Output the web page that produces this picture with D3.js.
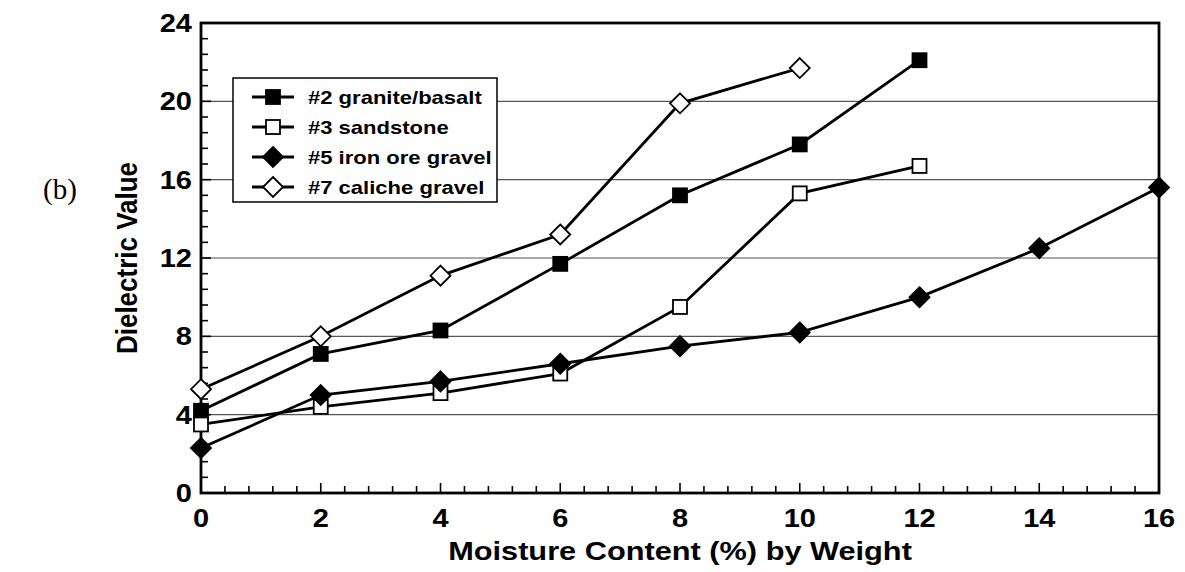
<!DOCTYPE html>
<html>
<head>
<meta charset="utf-8">
<script src="https://cdn.jsdelivr.net/npm/d3@7"></script>
<style>
  html, body { margin: 0; padding: 0; background: #fff; }
  svg { display: block; }
</style>
</head>
<body>
<div id="chart"></div>
<script>
// moisture content (% by weight)
const moisture = [0, 2, 4, 6, 8, 10, 12, 14, 16];

const granite = [4.2, 7.1, 8.3, 11.7, 15.2, 17.8, 22.1];
const sandstone = [3.5, 4.4, 5.1, 6.1, 9.5, 15.3, 16.7];
const ironOre = [2.3, 5.0, 5.7, 6.6, 7.5, 8.2, 10.0, 12.5, 15.6];
const caliche = [5.3, 8.0, 11.1, 13.2, 19.9, 21.7];

const seriesNames = ["#2 granite/basalt", "#3 sandstone", "#5 iron ore gravel", "#7 caliche gravel"];
const seriesValues = [granite, sandstone, ironOre, caliche];
const seriesMarkers = ["square", "square", "diamond", "diamond"];
const seriesFilled = [true, false, true, false];

const xTicks = [0, 2, 4, 6, 8, 10, 12, 14, 16];
const yTicks = [0, 4, 8, 12, 16, 20, 24];
const gridValues = [4, 8, 12, 16, 20];

const width = 1185, height = 572;
const margin = { top: 23, right: 26, bottom: 79, left: 201 };
const fontFamily = "'Liberation Sans', Arial, Helvetica, sans-serif";
const stretch = 1.16; // the scanned figure is a bit wider than tall

const svg = d3.select("#chart").append("svg")
  .attr("width", width)
  .attr("height", height);

const x = d3.scaleLinear().domain([0, 16]).range([margin.left, width - margin.right]);
const y = d3.scaleLinear().domain([0, 24]).range([height - margin.bottom, margin.top]);

// grid
svg.append("g")
  .selectAll("line")
  .data(gridValues)
  .enter().append("line")
  .attr("x1", x(0))
  .attr("x2", x(16))
  .attr("y1", d => y(d))
  .attr("y2", d => y(d))
  .attr("stroke", "#555")
  .attr("stroke-width", 1.2);

// minor + major ticks, pointing inside
const xMinor = d3.range(0, 16.001, 0.4);
const yMinor = d3.range(0, 24.001, 0.8);

svg.append("g")
  .selectAll("line")
  .data(xMinor)
  .enter().append("line")
  .attr("x1", d => x(d))
  .attr("x2", d => x(d))
  .attr("y1", y(0))
  .attr("y2", d => y(0) - (Math.abs(d / 2 - Math.round(d / 2)) < 1e-6 ? 10 : 7))
  .attr("stroke", "#000")
  .attr("stroke-width", 1.6);

svg.append("g")
  .selectAll("line")
  .data(yMinor)
  .enter().append("line")
  .attr("y1", d => y(d))
  .attr("y2", d => y(d))
  .attr("x1", x(0))
  .attr("x2", d => x(0) + (Math.abs(d / 4 - Math.round(d / 4)) < 1e-6 ? 10 : 7))
  .attr("stroke", "#000")
  .attr("stroke-width", 1.6);

// frame
svg.append("rect")
  .attr("x", x(0))
  .attr("y", y(24))
  .attr("width", x(16) - x(0))
  .attr("height", y(0) - y(24))
  .attr("fill", "none")
  .attr("stroke", "#000")
  .attr("stroke-width", 2.8);

// tick labels
svg.append("g")
  .selectAll("text")
  .data(xTicks)
  .enter().append("text")
  .attr("transform", d => `translate(${x(d)},${y(0) + 34}) scale(${stretch},1)`)
  .attr("text-anchor", "middle")
  .style("font-family", fontFamily)
  .style("font-weight", "bold")
  .style("font-size", "25px")
  .text(d => d);

svg.append("g")
  .selectAll("text")
  .data(yTicks)
  .enter().append("text")
  .attr("transform", d => `translate(${x(0) - 9},${y(d) + 9}) scale(${stretch},1)`)
  .attr("text-anchor", "end")
  .style("font-family", fontFamily)
  .style("font-weight", "bold")
  .style("font-size", "25px")
  .text(d => d);

// axis titles
svg.append("text")
  .attr("transform", `translate(${(x(0) + x(16)) / 2},${y(0) + 67}) scale(${stretch},1)`)
  .attr("text-anchor", "middle")
  .style("font-family", fontFamily)
  .style("font-weight", "bold")
  .style("font-size", "26.5px")
  .text("Moisture Content (%) by Weight");

svg.append("text")
  .attr("transform", `translate(137,${(y(0) + y(24)) / 2}) rotate(-90) scale(1,${stretch})`)
  .attr("text-anchor", "middle")
  .style("font-family", fontFamily)
  .style("font-weight", "bold")
  .style("font-size", "26px")
  .text("Dielectric Value");

svg.append("text")
  .attr("x", 60)
  .attr("y", 199)
  .attr("text-anchor", "middle")
  .style("font-family", "'Liberation Serif', 'Times New Roman', serif")
  .style("font-size", "29px")
  .text("(b)");

// markers
function drawMarker(g, type, filled, cx, cy) {
  if (type === "square") {
    g.append("rect")
      .attr("x", cx - 7)
      .attr("y", cy - 7)
      .attr("width", 14)
      .attr("height", 14)
      .attr("fill", filled ? "#000" : "#fff")
      .attr("stroke", "#000")
      .attr("stroke-width", 1.8);
  } else {
    const r = 10;
    g.append("path")
      .attr("d", `M${cx},${cy - r}L${cx + r},${cy}L${cx},${cy + r}L${cx - r},${cy}Z`)
      .attr("fill", filled ? "#000" : "#fff")
      .attr("stroke", "#000")
      .attr("stroke-width", 1.8);
  }
}

const line = d3.line()
  .x((d, i) => x(moisture[i]))
  .y(d => y(d));

seriesValues.forEach((vals, s) => {
  const g = svg.append("g");
  g.append("path")
    .datum(vals)
    .attr("d", line)
    .attr("fill", "none")
    .attr("stroke", "#000")
    .attr("stroke-width", 2.8);
  vals.forEach((v, i) => drawMarker(g, seriesMarkers[s], seriesFilled[s], x(moisture[i]), y(v)));
});

// legend
const legend = svg.append("g");
legend.append("rect")
  .attr("x", 233)
  .attr("y", 78)
  .attr("width", 264)
  .attr("height", 124)
  .attr("fill", "#fff")
  .attr("stroke", "#000")
  .attr("stroke-width", 1.5);

seriesNames.forEach((name, s) => {
  const ly = 97 + s * 30;
  legend.append("line")
    .attr("x1", 252)
    .attr("x2", 294)
    .attr("y1", ly)
    .attr("y2", ly)
    .attr("stroke", "#000")
    .attr("stroke-width", 2.8);
  drawMarker(legend, seriesMarkers[s], seriesFilled[s], 273, ly);
  legend.append("text")
    .attr("transform", `translate(308,${ly + 7}) scale(${stretch},1)`)
    .style("font-family", fontFamily)
    .style("font-weight", "bold")
    .style("font-size", "19px")
    .text(name);
});
</script>
</body>
</html>
